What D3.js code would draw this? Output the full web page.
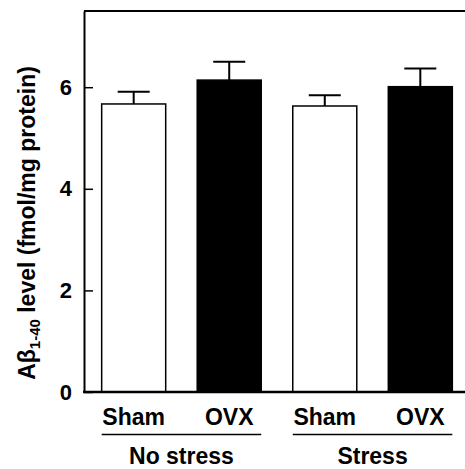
<!DOCTYPE html>
<html>
<head>
<meta charset="utf-8">
<script src="https://cdn.jsdelivr.net/npm/d3@7"></script>
<style>
  body { margin: 0; background: #fff; }
  text { font-family: "Liberation Sans", Arial, sans-serif; font-weight: bold; fill: #000; }
</style>
</head>
<body>
<svg id="chart" width="465" height="469"></svg>
<script>
// Chart data
const treatments = ["Sham", "OVX", "Sham", "OVX"];
const groups = ["No stress", "Stress"];
const means = [5.67, 6.14, 5.63, 6.01];
const sems = [0.24, 0.36, 0.21, 0.36];
const yTicks = [0, 2, 4, 6];

const svg = d3.select("#chart");
const plotLeft = 84, plotTop = 11, plotBottom = 392, plotRight = 465;

// Scales
const x = d3.scaleBand()
  .domain(d3.range(treatments.length))
  .range([plotLeft, 470])
  .paddingInner(0.33)
  .paddingOuter(0.185);

const y = d3.scaleLinear()
  .domain([0, 7.5])
  .range([plotBottom, plotTop]);

// Frame: left axis with inward ticks, top and bottom lines
svg.append("g")
    .attr("transform", "translate(" + plotLeft + ",0)")
    .call(d3.axisLeft(y).tickValues(yTicks).tickSize(-9).tickPadding(12).tickSizeOuter(0))
    .call(g => g.select(".domain").attr("stroke-width", 2))
    .call(g => g.selectAll(".tick line").attr("stroke-width", 1.5))
    .call(g => g.selectAll(".tick text")
      .style("font-size", "22px")
      .style("font-family", "'Liberation Sans', Arial, sans-serif")
      .style("font-weight", "bold")
      .attr("fill", "#000"));

svg.append("line")
    .attr("x1", plotLeft).attr("x2", plotRight)
    .attr("y1", plotTop).attr("y2", plotTop)
    .attr("stroke", "#000").attr("stroke-width", 2);

// Bars
svg.selectAll(".bar")
  .data(means)
  .enter()
  .append("rect")
    .classed("bar", true)
    .attr("x", (d, i) => x(i))
    .attr("width", x.bandwidth())
    .attr("y", d => y(d))
    .attr("height", d => y(0) - y(d))
    .attr("fill", (d, i) => treatments[i] === "OVX" ? "#000" : "#fff")
    .attr("stroke", "#000")
    .attr("stroke-width", 1.5);

// Error bars (upper only)
const err = svg.selectAll(".err")
  .data(means)
  .enter()
  .append("g")
    .classed("err", true);

err.append("line")
    .attr("x1", (d, i) => x(i) + x.bandwidth() / 2)
    .attr("x2", (d, i) => x(i) + x.bandwidth() / 2)
    .attr("y1", d => y(d))
    .attr("y2", (d, i) => y(d + sems[i]))
    .attr("stroke", "#000").attr("stroke-width", 2);

err.append("line")
    .attr("x1", (d, i) => x(i) + x.bandwidth() / 2 - 16)
    .attr("x2", (d, i) => x(i) + x.bandwidth() / 2 + 16)
    .attr("y1", (d, i) => y(d + sems[i]))
    .attr("y2", (d, i) => y(d + sems[i]))
    .attr("stroke", "#000").attr("stroke-width", 2);

// Bottom axis line drawn over the bars
svg.append("line")
    .attr("x1", plotLeft - 1).attr("x2", plotRight)
    .attr("y1", plotBottom).attr("y2", plotBottom)
    .attr("stroke", "#000").attr("stroke-width", 2.5);

// Treatment labels
svg.selectAll(".tlabel")
  .data(treatments)
  .enter()
  .append("text")
    .classed("tlabel", true)
    .attr("x", (d, i) => x(i) + x.bandwidth() / 2)
    .attr("y", 424.5)
    .attr("text-anchor", "middle")
    .style("font-size", "23px")
    .text(d => d);

// Group underlines and labels
groups.forEach((g, gi) => {
  let x0 = x(gi * 2);
  let x1 = x(gi * 2 + 1) + x.bandwidth();
  svg.append("line")
      .attr("x1", x0).attr("x2", x1)
      .attr("y1", 434.5).attr("y2", 434.5)
      .attr("stroke", "#000").attr("stroke-width", 1.5);
  svg.append("text")
      .attr("x", (x0 + x1) / 2)
      .attr("y", 464)
      .attr("text-anchor", "middle")
      .style("font-size", "23px")
      .text(g);
});

// Y axis title with subscript
const title = svg.append("text")
    .attr("transform", "translate(35,223) rotate(-90)")
    .attr("text-anchor", "middle")
    .style("font-size", "23px");
title.append("tspan").text("Aβ");
title.append("tspan").attr("dy", 5).style("font-size", "15px").text("1-40");
title.append("tspan").attr("dy", -5).text(" level (fmol/mg protein)");
</script>
</body>
</html>
